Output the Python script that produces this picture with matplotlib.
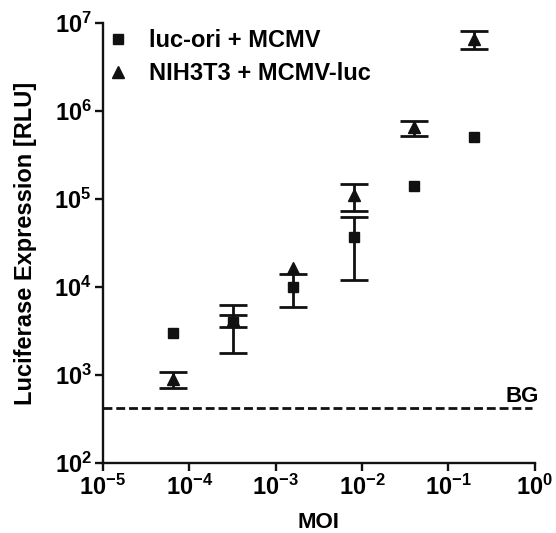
import math
import matplotlib
matplotlib.use("Agg")
import matplotlib.pyplot as plt
from matplotlib import ticker
from matplotlib.lines import Line2D

plt.rcParams['font.family'] = ['Liberation Sans', 'DejaVu Sans']
plt.rcParams['font.weight'] = 'bold'
plt.rcParams['mathtext.fontset'] = 'custom'
plt.rcParams['mathtext.rm'] = 'Liberation Sans:bold'
plt.rcParams['mathtext.it'] = 'Liberation Sans:bold'
plt.rcParams['mathtext.bf'] = 'Liberation Sans:bold'

# MOI dilution series (5-fold)
moi = [6.4e-5, 3.2e-4, 1.6e-3, 8e-3, 4e-2, 2e-1]

# luc-ori + MCMV
ori_mean = [3000, 4000, 10000, 37000, 1.4e5, 5.0e5]
ori_sd = [0, 2200, 4100, 25000, 0, 0]

# NIH3T3 + MCMV-luc
luc_mean = [900, 4200, 16500, 1.1e5, 6.5e5, 6.6e6]
luc_sd = [185, 670, 0, 37000, 1.25e5, 1.55e6]

background = 425

ink = '#111111'

fig = plt.figure(figsize=(5.56, 5.33), dpi=100)
ax = fig.add_axes([0.185, 0.131, 0.777, 0.826])


def draw_series(means, sds, marker, ms):
    # error bars only where an SD was recorded
    ex = [x for x, s in zip(moi, sds) if s > 0]
    ey = [m for m, s in zip(means, sds) if s > 0]
    es = [s for s in sds if s > 0]
    ax.errorbar(ex, ey, yerr=es, fmt='none', ecolor=ink, capsize=10,
                capthick=2, elinewidth=2, zorder=2)
    ax.plot(moi, means, linestyle='none', marker=marker, ms=ms, color=ink, zorder=3)


draw_series(ori_mean, ori_sd, 's', 7.5)
draw_series(luc_mean, luc_sd, '^', 8.5)

ax.plot([1e-5, 0.93], [background, background], color=ink, lw=2,
        linestyle=(0, (3.2, 1.4)), zorder=1)
ax.text(1.01, background * 1.02, 'BG', fontsize=16, fontweight='bold',
        ha='right', va='bottom', transform=ax.get_yaxis_transform())

ax.set_xscale('log')
ax.set_yscale('log')
ax.set_xlim(1e-5, 1)
ax.set_ylim(1e2, 1e7)


def pow10(v, pos):
    e = int(round(math.log10(v)))
    return r'$\mathrm{10^{%d}}$' % e


ax.xaxis.set_major_locator(ticker.LogLocator(base=10, numticks=10))
ax.yaxis.set_major_locator(ticker.LogLocator(base=10, numticks=10))
ax.xaxis.set_minor_locator(ticker.NullLocator())
ax.yaxis.set_minor_locator(ticker.NullLocator())
ax.xaxis.set_major_formatter(ticker.FuncFormatter(pow10))
ax.yaxis.set_major_formatter(ticker.FuncFormatter(pow10))
ax.tick_params(labelsize=17, width=1.7, length=6, color=ink, pad=2)

for s in ['top', 'right']:
    ax.spines[s].set_visible(False)
for s in ['left', 'bottom']:
    ax.spines[s].set_linewidth(1.7)
    ax.spines[s].set_color(ink)

ax.set_xlabel('MOI', fontsize=16, fontweight='bold', labelpad=9)
ax.set_ylabel('Luciferase Expression [RLU]', fontsize=17, fontweight='bold', labelpad=12)

handles = [Line2D([], [], linestyle='none', marker='s', ms=7, color=ink),
           Line2D([], [], linestyle='none', marker='^', ms=8, color=ink)]
ax.legend(handles, ['luc-ori + MCMV', 'NIH3T3 + MCMV-luc'], loc='upper left',
          frameon=False, fontsize=17, handletextpad=0.9, labelspacing=0.45,
          borderaxespad=0.0, handlelength=0.8, borderpad=0.25)

fig.savefig('out.png', dpi=100)
